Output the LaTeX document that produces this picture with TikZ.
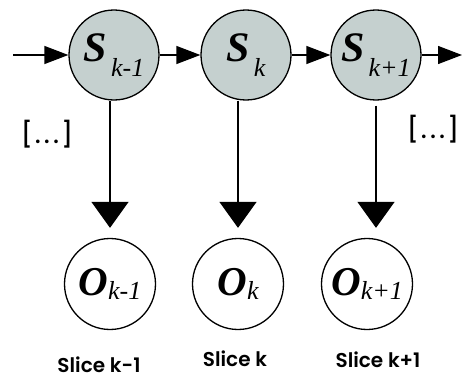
\documentclass[tikz,border=0pt]{standalone}
\usepackage{fontspec}
\setmainfont{Liberation Serif}
\IfFontExistsTF{Poppins SemiBold}
  {\newfontfamily\slicefont{Poppins SemiBold}}
  {\newfontfamily\slicefont{Poppins}[UprightFont=*,BoldFont=*]}
\IfFontExistsTF{Poppins Medium}
  {\newfontfamily\dotsfont{Poppins Medium}}
  {\newfontfamily\dotsfont{Poppins}}
\usepackage{xcolor}
\usepackage{tikz}
\usetikzlibrary{arrows.meta,positioning}

\definecolor{sfill}{RGB}{197,208,207}

\begin{document}
\begin{tikzpicture}[
  x=1pt,y=-1pt,
  hidden/.style={circle,draw=black,line width=1.3pt,fill=sfill,minimum size=90pt,inner sep=0pt,font=\fontsize{42}{42}\selectfont\bfseries\itshape},
  obs/.style={circle,draw=black,line width=1.3pt,fill=white,minimum size=91pt,inner sep=0pt,font=\fontsize{41}{41}\selectfont\bfseries\itshape},
  slice/.style={inner sep=0pt,font=\slicefont\fontsize{20}{20}\selectfont},
  dots/.style={inner sep=0pt,font=\dotsfont\fontsize{25}{25}\selectfont},
  link/.style={-{Triangle[length=24pt,width=18pt]},line width=1.3pt},
  down/.style={-{Triangle[length=26pt,width=37pt]},line width=1.3pt,shorten >=10pt}
]
  \useasboundingbox (0,0) rectangle (464,380);

  % hidden chain
  \node[hidden] (sk1) at (114,55) {S\hspace{4pt}\raisebox{-15pt}{\mdseries\fontsize{26}{26}\selectfont k-1}};
  \node[hidden] (sk) at (246,55) {S\hspace{4pt}\raisebox{-15pt}{\mdseries\fontsize{26}{26}\selectfont k}};
  \node[hidden] (skp) at (376,55) {S\hspace{4pt}\raisebox{-15pt}{\mdseries\fontsize{26}{26}\selectfont k+1}};

  \coordinate (in) at (13,55);
  \coordinate (out) at (462,55);

  \draw[link] (in) -- (sk1.west);
  \draw[link] (sk1) -- (sk);
  \draw[link] (sk) -- (skp);
  \draw[link] (skp.east) -- (out);

  % observations
  \node[obs] (ok1) at (110,284) {O\raisebox{-4pt}{\mdseries\fontsize{26}{26}\selectfont k-1}};
  \node[obs] (ok) at (238,284) {O\raisebox{-4pt}{\mdseries\fontsize{26}{26}\selectfont k}};
  \node[obs] (okp) at (367,284) {O\raisebox{-4pt}{\mdseries\fontsize{26}{26}\selectfont k+1}};

  \draw[down] (ok1.north |- sk1.south) -- (ok1.north);
  \draw[down] (ok.north |- sk.south) -- (ok.north);
  \draw[down,shorten <=5pt] (skp.south) -- (skp.south |- okp.north);

  \node[dots] (lmore) at (47,134) {[\hspace{2pt}.\hspace{3pt}.\hspace{3pt}.\hspace{2pt}]};
  \node[dots] (rmore) at (433,129) {[\hspace{2pt}.\hspace{3pt}.\hspace{3pt}.\hspace{2pt}]};

  \node[slice] (lk1) at (99,365) {Slice k-1};
  \node[slice] (lk) at (235,359) {Slice k};
  \node[slice] (lkp) at (378,360) {Slice k+1};
\end{tikzpicture}
\end{document}
